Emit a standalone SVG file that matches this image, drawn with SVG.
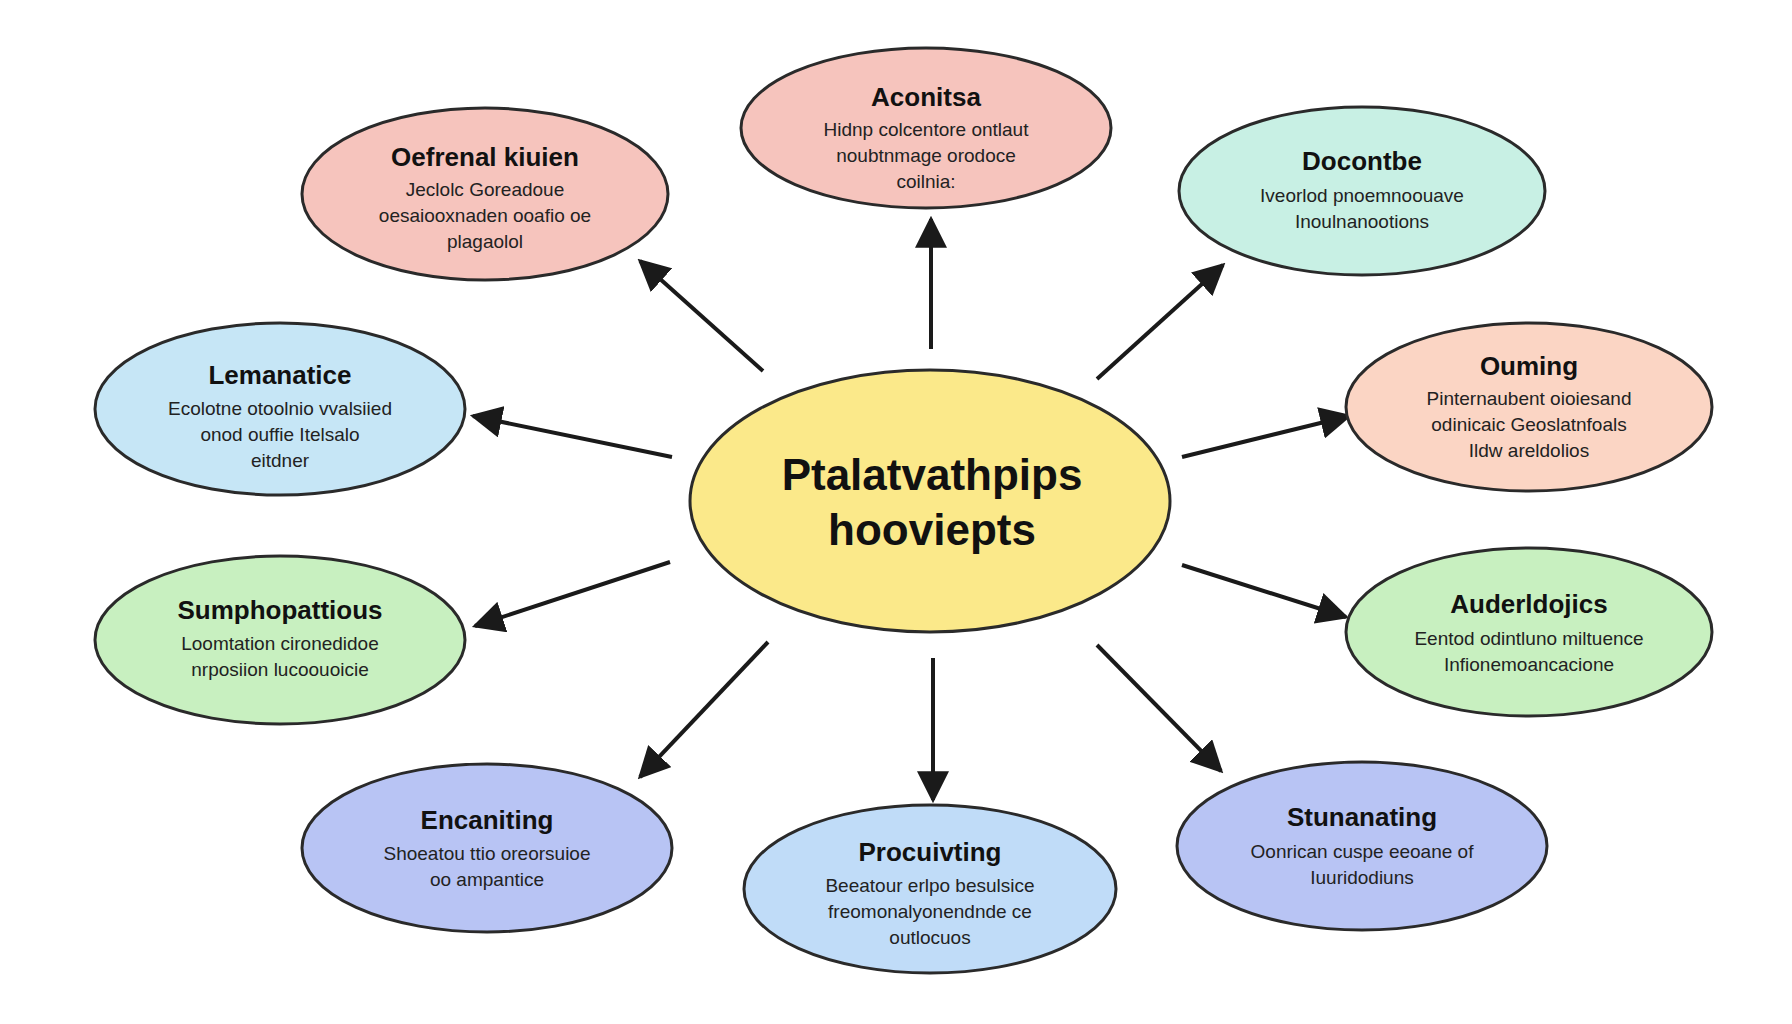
<svg xmlns="http://www.w3.org/2000/svg" width="1792" height="1024" viewBox="0 0 1792 1024">
<defs>
<marker id="ah" viewBox="0 0 10 10" refX="9" refY="5" markerWidth="8" markerHeight="8" orient="auto"><path d="M0,0 L10,5 L0,10 z" fill="#1a1a1a"/></marker>
<style>
.n{stroke:#2a2a2a;stroke-width:3}
.t{font-family:"Liberation Sans",Arial,sans-serif;font-weight:bold;font-size:26px;fill:#111;text-anchor:middle}
.b{font-family:"Liberation Sans",Arial,sans-serif;font-size:19px;fill:#222;text-anchor:middle}
.c{font-family:"Liberation Sans",Arial,sans-serif;font-weight:bold;font-size:44px;fill:#111;text-anchor:middle}
.a{stroke:#1a1a1a;stroke-width:4;fill:none;marker-end:url(#ah)}
</style>
</defs>
<rect width="1792" height="1024" fill="#fff"/>
<g id="connectors">
<line class="a" x1="931" y1="349" x2="931" y2="219"/>
<line class="a" x1="763" y1="371" x2="640" y2="261"/>
<line class="a" x1="1097" y1="379" x2="1223" y2="265"/>
<line class="a" x1="672" y1="457" x2="473" y2="416"/>
<line class="a" x1="1182" y1="457" x2="1349" y2="416"/>
<line class="a" x1="670" y1="562" x2="475" y2="626"/>
<line class="a" x1="1182" y1="565" x2="1346" y2="617"/>
<line class="a" x1="768" y1="642" x2="640" y2="777"/>
<line class="a" x1="933" y1="658" x2="933" y2="800"/>
<line class="a" x1="1097" y1="645" x2="1221" y2="771"/>
</g>
<g id="center"><ellipse class="n" cx="930" cy="501" rx="240" ry="131" fill="#fbe98a"/>
<text class="c" x="932" y="490">Ptalatvathpips</text><text class="c" x="932" y="545">hooviepts</text></g>
<g id="n-top"><ellipse class="n" cx="926" cy="128" rx="185" ry="80" fill="#f6c4bd"/>
<text class="t" x="926" y="106">Aconitsa</text><text class="b" x="926" y="136">Hidnp colcentore ontlaut</text><text class="b" x="926" y="162">noubtnmage orodoce</text><text class="b" x="926" y="188">coilnia:</text></g>
<g id="n-tl"><ellipse class="n" cx="485" cy="194" rx="183" ry="86" fill="#f6c4bd"/>
<text class="t" x="485" y="166">Oefrenal kiuien</text><text class="b" x="485" y="196">Jeclolc Goreadoue</text><text class="b" x="485" y="222">oesaiooxnaden ooafio oe</text><text class="b" x="485" y="248">plagaolol</text></g>
<g id="n-tr"><ellipse class="n" cx="1362" cy="191" rx="183" ry="84" fill="#c8f0e4"/>
<text class="t" x="1362" y="170">Docontbe</text><text class="b" x="1362" y="202">Iveorlod pnoemnoouave</text><text class="b" x="1362" y="228">Inoulnanootions</text></g>
<g id="n-l"><ellipse class="n" cx="280" cy="409" rx="185" ry="86" fill="#c6e6f6"/>
<text class="t" x="280" y="384">Lemanatice</text><text class="b" x="280" y="415">Ecolotne otoolnio vvalsiied</text><text class="b" x="280" y="441">onod ouffie Itelsalo</text><text class="b" x="280" y="467">eitdner</text></g>
<g id="n-r"><ellipse class="n" cx="1529" cy="407" rx="183" ry="84" fill="#fbd5c4"/>
<text class="t" x="1529" y="375">Ouming</text><text class="b" x="1529" y="405">Pinternaubent oioiesand</text><text class="b" x="1529" y="431">odinicaic Geoslatnfoals</text><text class="b" x="1529" y="457">Ildw areldolios</text></g>
<g id="n-ll"><ellipse class="n" cx="280" cy="640" rx="185" ry="84" fill="#c8f0c0"/>
<text class="t" x="280" y="619">Sumphopattious</text><text class="b" x="280" y="650">Loomtation cironedidoe</text><text class="b" x="280" y="676">nrposiion lucoouoicie</text></g>
<g id="n-rl"><ellipse class="n" cx="1529" cy="632" rx="183" ry="84" fill="#c8f0c0"/>
<text class="t" x="1529" y="613">Auderldojics</text><text class="b" x="1529" y="645">Eentod odintluno miltuence</text><text class="b" x="1529" y="671">Infionemoancacione</text></g>
<g id="n-bl"><ellipse class="n" cx="487" cy="848" rx="185" ry="84" fill="#b8c4f4"/>
<text class="t" x="487" y="829">Encaniting</text><text class="b" x="487" y="860">Shoeatou ttio oreorsuioe</text><text class="b" x="487" y="886">oo ampantice</text></g>
<g id="n-b"><ellipse class="n" cx="930" cy="889" rx="186" ry="84" fill="#c0dcf8"/>
<text class="t" x="930" y="861">Procuivting</text><text class="b" x="930" y="892">Beeatour erlpo besulsice</text><text class="b" x="930" y="918">freomonalyonendnde ce</text><text class="b" x="930" y="944">outlocuos</text></g>
<g id="n-br"><ellipse class="n" cx="1362" cy="846" rx="185" ry="84" fill="#b8c4f4"/>
<text class="t" x="1362" y="826">Stunanating</text><text class="b" x="1362" y="858">Oonrican cuspe eeoane of</text><text class="b" x="1362" y="884">Iuuridodiuns</text></g>
</svg>
